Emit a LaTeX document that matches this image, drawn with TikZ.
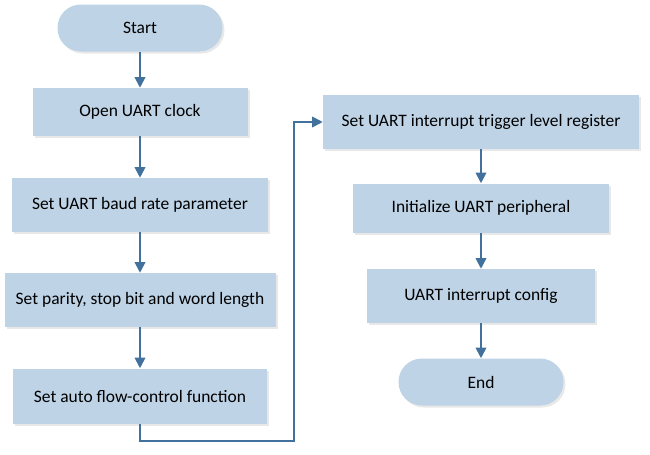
\documentclass[tikz,border=0pt]{standalone}
\usepackage{fontspec}
\setmainfont{Carlito}
\usetikzlibrary{positioning,arrows.meta,shadows}
\definecolor{boxColor}{RGB}{190,211,230}
\definecolor{lineColor}{RGB}{65,113,156}
\tikzstyle{chart} = [x = 0.75pt, y = -0.75pt, font=\fontsize{13.1}{15}\selectfont]
\tikzstyle{stepBox} = [fill=boxColor, inner sep=0pt, align=center,
  drop shadow={opacity=0.18, shadow xshift=1.5pt, shadow yshift=-1.5pt}]
\tikzstyle{terminal} = [stepBox, rounded corners=17.5pt, minimum width=123.75pt, minimum height=35.25pt]
\tikzstyle{flowLine} = [color=lineColor, line width=1.3pt, -{Triangle[width=8pt,length=8pt]}]
\newcommand{\stepNode}[5]{\node [stepBox, minimum width=#3*0.75pt, minimum height=#4*0.75pt] (#1) at #2 {#5};}

\begin{document}
\begin{tikzpicture}[chart]
        \useasboundingbox (0,0) rectangle (650,454);
        % left column
        \node [terminal] (start) at (140,28) {Start};
        \stepNode{clock}{(140,112)}{215}{48}{Open UART clock}
        \stepNode{baud}{(140,205)}{256}{54}{Set UART baud rate parameter}
        \stepNode{parity}{(140,300)}{271}{54}{Set parity, stop bit and word length}
        \stepNode{flow}{(140,396)}{254}{55}{Set auto flow-control function}
        % right column
        \stepNode{trigger}{(481,122)}{316}{54}{Set UART interrupt trigger level register}
        \stepNode{init}{(481,208)}{256}{49}{Initialize UART peripheral}
        \stepNode{config}{(481,296)}{228}{54}{UART interrupt config}
        \node [terminal] (end) at (481,382) {End};

        \coordinate (loopDown) at (140,441);
        \coordinate (loopRight) at (294,441);

        \draw[flowLine] (start) -- (clock);
        \draw[flowLine] (clock) -- (baud);
        \draw[flowLine] (baud) -- (parity);
        \draw[flowLine] (parity) -- (flow);
        \draw[flowLine] (flow) -- (loopDown) -- (loopRight) |- (trigger);
        \draw[flowLine] (trigger) -- (init);
        \draw[flowLine] (init) -- (config);
        \draw[flowLine] (config) -- (end);
      \end{tikzpicture}
\end{document}
